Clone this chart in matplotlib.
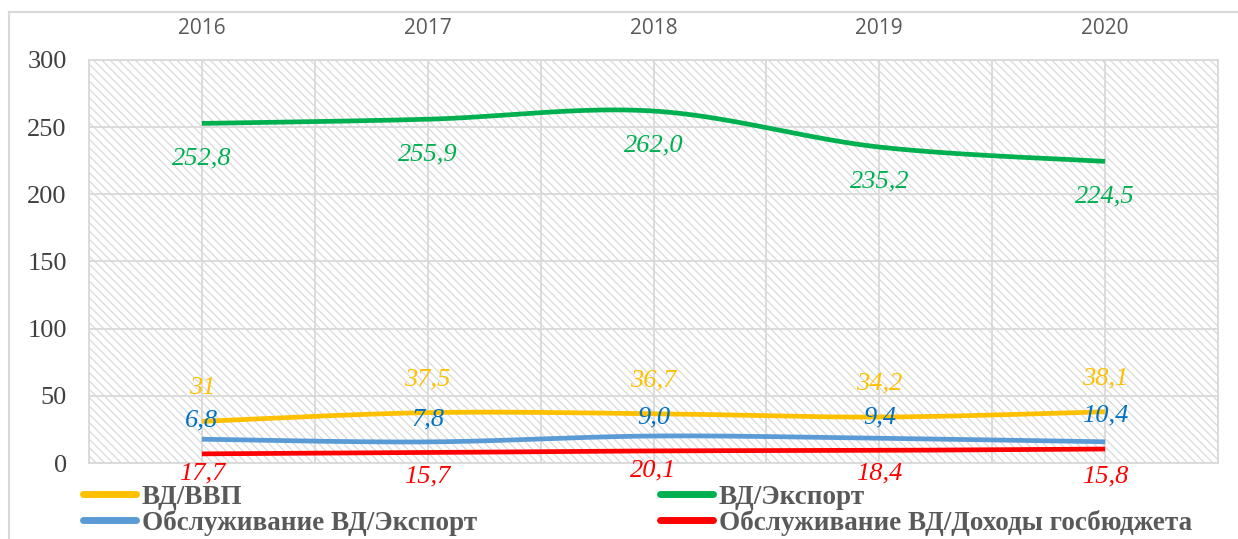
import numpy as np
import matplotlib
matplotlib.use("Agg")
import matplotlib.pyplot as plt
from matplotlib.lines import Line2D
from matplotlib.patches import Rectangle

years = ["2016", "2017", "2018", "2019", "2020"]
vd_vvp = [31.0, 37.5, 36.7, 34.2, 38.1]
vd_export = [252.8, 255.9, 262.0, 235.2, 224.5]
serv_export = [17.7, 15.7, 20.1, 18.4, 15.8]
serv_budget = [6.8, 7.8, 9.0, 9.4, 10.4]

YELLOW = "#FFC000"
GREEN = "#00B050"
BLUE = "#5B9BD5"
RED = "#FF0000"
LBL_BLUE = "#0070C0"
GRID = "#D9D9D9"
TXT = "#595959"

SERIF = "Liberation Serif"
plt.rcParams["hatch.linewidth"] = 1.0


def smooth(xs, ys, n=40):
    # Catmull-Rom style bezier, like office "smoothed line"
    xs = np.asarray(xs, float)
    ys = np.asarray(ys, float)
    px = np.concatenate([[xs[0]], xs, [xs[-1]]])
    py = np.concatenate([[ys[0]], ys, [ys[-1]]])
    outx, outy = [], []
    t = np.linspace(0, 1, n)
    for i in range(1, len(px) - 2):
        p0 = np.array([px[i], py[i]])
        p3 = np.array([px[i + 1], py[i + 1]])
        p1 = p0 + (np.array([px[i + 1], py[i + 1]]) - np.array([px[i - 1], py[i - 1]])) / 6
        p2 = p3 - (np.array([px[i + 2], py[i + 2]]) - np.array([px[i], py[i]])) / 6
        b = ((1 - t) ** 3)[:, None] * p0 + (3 * (1 - t) ** 2 * t)[:, None] * p1 \
            + (3 * (1 - t) * t ** 2)[:, None] * p2 + (t ** 3)[:, None] * p3
        outx.extend(b[:, 0])
        outy.extend(b[:, 1])
    return outx, outy


fig = plt.figure(figsize=(12.38, 5.39), dpi=100)
ax = fig.add_axes([89 / 1238, 1 - 463 / 539, (1218 - 89) / 1238, (463 - 60) / 539])

# outer chart frame
fig.add_artist(Line2D([9 / 1238, 1.0], [1 - 12 / 539] * 2, color=GRID, lw=1.5))
fig.add_artist(Line2D([9 / 1238] * 2, [0, 1 - 12 / 539], color=GRID, lw=1.5))

# hatched plot area
ax.add_patch(Rectangle((0, 0), 1, 1, transform=ax.transAxes, facecolor="white",
                       edgecolor="#DCDCDC", lw=0, hatch="\\\\\\\\", zorder=0))

x = np.arange(len(years))
series = [
    (vd_vvp, YELLOW, "ВД/ВВП"),
    (serv_export, BLUE, "Обслуживание ВД/Экспорт"),
    (vd_export, GREEN, "ВД/Экспорт"),
    (serv_budget, RED, "Обслуживание ВД/Доходы госбюджета"),
]
handles = []
for vals, col, name in series:
    sx, sy = smooth(x, vals)
    ln, = ax.plot(sx, sy, color=col, lw=3.4, solid_capstyle="butt", zorder=3, label=name)
    handles.append(ln)


def labels(vals, col, dy):
    for xi, v in zip(x, vals):
        txt = f"{v:.1f}".replace(".", ",")
        if v == 31.0:
            txt = "31"
        ax.annotate(txt, (xi, v), textcoords="offset points", xytext=(0, dy),
                    ha="center", va="center", fontsize=19, color=col,
                    family=SERIF, style="italic", zorder=4)


labels(vd_export, GREEN, -25)
labels(vd_vvp, YELLOW, 24)
labels(serv_budget, LBL_BLUE, 24)
labels(serv_export, RED, -25)

ax.set_xlim(-0.5, 4.5)
ax.set_ylim(0, 300)
ax.set_yticks(np.arange(0, 301, 50))
ax.set_xticks(x)
ax.set_xticks(np.arange(-0.5, 4.6, 0.5), minor=True)
ax.set_xticklabels(years, fontsize=15, color=TXT, family="Open Sans")
ax.xaxis.tick_top()
ax.tick_params(axis="x", which="both", length=0, pad=15)
ax.tick_params(axis="y", length=0, pad=16, labelsize=19, labelcolor="#404040")
for lab in ax.get_yticklabels():
    lab.set_family(SERIF)
ax.grid(True, which="both", axis="x", color=GRID, lw=1.3, zorder=1)
ax.grid(True, axis="y", color=GRID, lw=1.3, zorder=1)
ax.set_axisbelow(True)
for s in ax.spines.values():
    s.set_color(GRID)
    s.set_linewidth(1.3)

fig.legend(handles=handles, ncol=2, loc="upper left",
           bbox_to_anchor=(72 / 1238, 1 - 474 / 539), frameon=False,
           handlelength=1.95, handletextpad=0.22, columnspacing=6.77,
           labelspacing=0.0, borderaxespad=0,
           prop={"family": SERIF, "weight": "bold", "size": 19.5},
           labelcolor=TXT)
for h in fig.legends[0].legend_handles:
    h.set_linewidth(5)
    h.set_solid_capstyle("round")

fig.savefig("out.png", dpi=100)
